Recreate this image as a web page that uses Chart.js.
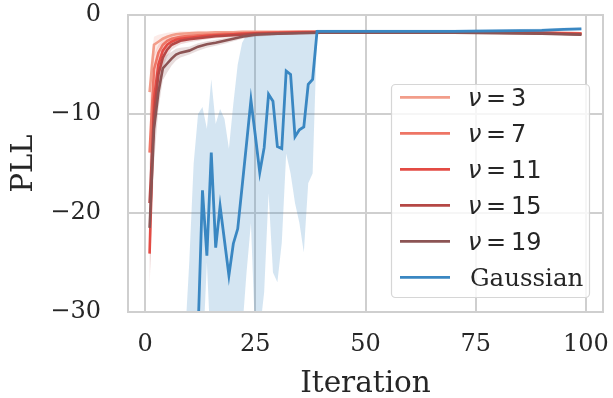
<!DOCTYPE html>
<html>
<head>
<meta charset="utf-8">
<script src="https://cdn.jsdelivr.net/npm/chart.js@4.4.1/dist/chart.umd.min.js"></script>
<style>
  html, body { margin: 0; padding: 0; background: #fff; }
  #wrap { width: 613px; height: 398px; }
</style>
</head>
<body>
<div id="wrap"><canvas id="chart" width="613" height="398"></canvas></div>
<script>
const X_TICKS = [0, 25, 50, 75, 100];
const Y_TICKS = [0, -10, -20, -30];

// student-t runs, shared iteration grid
const T_ITER = [1, 2, 3, 4, 5, 6, 7, 8, 10, 12, 14, 16, 18, 20, 22, 25, 30, 35, 40, 50, 60, 70, 80, 90, 99];

const NU3_MEAN = [-7.8, -3.0, -2.7, -2.4, -2.2, -2.05, -1.95, -1.9, -1.85, -1.8, -1.8, -1.75, -1.75, -1.75, -1.7, -1.7, -1.7, -1.7, -1.7, -1.7, -1.7, -1.7, -1.75, -1.8, -1.85];
const NU3_LO = [-10.5, -4.2, -3.3, -2.9, -2.6, -2.4, -2.25, -2.15, -2.05, -2.0, -1.95, -1.9, -1.9, -1.9, -1.85, -1.85, -1.8, -1.8, -1.8, -1.8, -1.8, -1.8, -1.85, -1.9, -1.95];
const NU3_HI = [-5.5, -2.2, -2.0, -1.9, -1.8, -1.75, -1.7, -1.65, -1.65, -1.6, -1.6, -1.6, -1.6, -1.6, -1.58, -1.58, -1.6, -1.6, -1.6, -1.6, -1.6, -1.6, -1.65, -1.7, -1.75];

const NU7_MEAN = [-13.9, -5.5, -3.8, -3.0, -2.6, -2.4, -2.3, -2.2, -2.1, -2.05, -2.0, -1.95, -1.9, -1.9, -1.85, -1.8, -1.75, -1.7, -1.7, -1.7, -1.7, -1.7, -1.75, -1.8, -1.85];
const NU7_LO = [-17, -7.5, -4.8, -3.6, -3.0, -2.7, -2.55, -2.45, -2.3, -2.25, -2.2, -2.1, -2.05, -2.0, -1.95, -1.9, -1.85, -1.8, -1.8, -1.8, -1.8, -1.8, -1.85, -1.9, -1.95];
const NU7_HI = [-10, -4, -3, -2.5, -2.25, -2.1, -2.05, -1.95, -1.9, -1.85, -1.8, -1.8, -1.75, -1.75, -1.72, -1.7, -1.65, -1.6, -1.6, -1.6, -1.6, -1.6, -1.65, -1.7, -1.75];

const NU11_MEAN = [-24.1, -8.5, -5.0, -3.6, -3.0, -2.7, -2.5, -2.4, -2.3, -2.2, -2.1, -2.05, -2.0, -1.95, -1.9, -1.85, -1.8, -1.75, -1.72, -1.7, -1.7, -1.72, -1.75, -1.8, -1.9];
const NU11_LO = [-28, -11, -6.3, -4.3, -3.5, -3.1, -2.8, -2.65, -2.5, -2.4, -2.3, -2.2, -2.15, -2.1, -2.0, -1.95, -1.9, -1.85, -1.82, -1.8, -1.8, -1.82, -1.85, -1.9, -2.0];
const NU11_HI = [-20, -6.5, -4.0, -3.0, -2.6, -2.4, -2.25, -2.15, -2.1, -2.0, -1.95, -1.9, -1.85, -1.8, -1.8, -1.75, -1.7, -1.65, -1.62, -1.6, -1.6, -1.62, -1.65, -1.7, -1.8];

const NU15_MEAN = [-19.0, -10.0, -6.0, -4.3, -3.5, -3.0, -2.8, -2.6, -2.45, -2.35, -2.25, -2.15, -2.1, -2.05, -2.0, -1.9, -1.85, -1.8, -1.75, -1.72, -1.72, -1.75, -1.8, -1.85, -1.95];
const NU15_LO = [-23, -13, -7.5, -5.3, -4.2, -3.5, -3.2, -2.95, -2.75, -2.6, -2.45, -2.35, -2.3, -2.2, -2.15, -2.05, -1.95, -1.9, -1.85, -1.82, -1.82, -1.85, -1.9, -1.95, -2.05];
const NU15_HI = [-15, -7.5, -4.8, -3.5, -2.9, -2.6, -2.45, -2.3, -2.2, -2.1, -2.05, -1.95, -1.9, -1.9, -1.85, -1.78, -1.75, -1.7, -1.65, -1.62, -1.62, -1.65, -1.7, -1.75, -1.85];

const NU19_MEAN = [-21.5, -11.5, -7.8, -5.4, -4.9, -4.4, -4.0, -3.8, -3.6, -3.2, -2.95, -2.8, -2.6, -2.4, -2.2, -2.0, -1.9, -1.85, -1.8, -1.78, -1.78, -1.8, -1.85, -1.9, -2.0];
const NU19_LO = [-27, -15, -9.5, -6.6, -5.8, -5.1, -4.6, -4.3, -4.0, -3.6, -3.3, -3.1, -2.9, -2.65, -2.4, -2.2, -2.05, -1.95, -1.9, -1.88, -1.88, -1.9, -1.95, -2.0, -2.1];
const NU19_HI = [-15, -8.5, -5.8, -4.3, -4.0, -3.7, -3.4, -3.3, -3.2, -2.85, -2.65, -2.5, -2.35, -2.2, -2.0, -1.85, -1.78, -1.75, -1.7, -1.68, -1.68, -1.7, -1.75, -1.8, -1.9];

// gaussian run
const G_ITER = [1, 2, 3, 4, 5, 6, 7, 8, 9, 10, 11, 12, 13, 14, 15, 16, 17, 18, 19, 20, 21, 22, 23, 24, 25, 26, 27, 28, 29, 30, 31, 32, 33, 34, 35, 36, 37, 38, 39, 45, 50, 60, 70, 80, 90, 95, 99];
const G_MEAN = [-150, -130, -110, -100, -90, -80, -70, -60, -55, -50, -45, -32, -17.7, -24.3, -13.9, -23.5, -19.3, -22.8, -26.3, -23.1, -21.6, -17.3, -13.0, -8.6, -12.2, -15.9, -13.4, -8.0, -8.7, -13.3, -13.5, -5.65, -6.0, -12.3, -11.6, -11.3, -7.0, -6.5, -1.65, -1.65, -1.65, -1.65, -1.65, -1.6, -1.55, -1.45, -1.4];
const G_LO = [-250, -230, -200, -180, -160, -140, -120, -100, -90, -80, -70, -60, -35, -25, -35, -40, -40, -40, -40, -38, -36, -32, -26, -21, -33, -32, -28, -18, -26, -27, -23, -14, -16, -19, -21, -24, -17, -16, -1.8, -1.8, -1.8, -1.8, -1.8, -1.75, -1.7, -1.6, -1.55];
const G_HI = [-80, -70, -60, -55, -50, -45, -40, -36, -33, -25, -15, -10, -9.3, -11.5, -6.5, -11, -9.5, -10.5, -13.5, -9, -5, -2.8, -2.0, -1.9, -1.9, -1.85, -1.85, -1.85, -1.85, -1.85, -1.85, -1.8, -1.8, -1.8, -1.8, -1.8, -1.8, -1.8, -1.5, -1.5, -1.5, -1.5, -1.5, -1.45, -1.4, -1.3, -1.25];

const T_SERIES = [
  { label: "3", mean: NU3_MEAN, lo: NU3_LO, hi: NU3_HI, color: "#f29d8a" },
  { label: "7", mean: NU7_MEAN, lo: NU7_LO, hi: NU7_HI, color: "#ee7565" },
  { label: "11", mean: NU11_MEAN, lo: NU11_LO, hi: NU11_HI, color: "#e34b44" },
  { label: "15", mean: NU15_MEAN, lo: NU15_LO, hi: NU15_HI, color: "#b54745" },
  { label: "19", mean: NU19_MEAN, lo: NU19_LO, hi: NU19_HI, color: "#8c5454" },
];
const G_COLOR = "#3a87c2";

const TEXT = "#262626";
const GRID = "#cfcfcf";

function pts(xs, ys) {
  return xs.map((x, i) => ({ x, y: ys[i] }));
}

function alpha(hex, a) {
  const n = parseInt(hex.slice(1), 16);
  return `rgba(${(n >> 16) & 255},${(n >> 8) & 255},${n & 255},${a})`;
}

function fmtTick(v) {
  return v < 0 ? "\u2212" + Math.abs(v) : String(v);
}

const datasets = [];
const bandStyle = { pointRadius: 0, borderWidth: 0, borderColor: "transparent", tension: 0 };

// gaussian band sits at the bottom
datasets.push({ ...bandStyle, data: pts(G_ITER, G_LO), fill: false, order: 100 });
datasets.push({ ...bandStyle, data: pts(G_ITER, G_HI), fill: { target: datasets.length - 1 },
  backgroundColor: alpha(G_COLOR, 0.22), order: 99 });

T_SERIES.forEach((s, k) => {
  datasets.push({ ...bandStyle, data: pts(T_ITER, s.lo), fill: false, order: 90 - 2 * k });
  datasets.push({ ...bandStyle, data: pts(T_ITER, s.hi), fill: { target: datasets.length - 1 },
    backgroundColor: alpha(s.color, 0.2), order: 89 - 2 * k });
});
T_SERIES.forEach((s, k) => {
  datasets.push({ data: pts(T_ITER, s.mean), borderColor: s.color, borderWidth: 2.6,
    pointRadius: 0, fill: false, tension: 0, order: 20 - k });
});
datasets.push({ data: pts(G_ITER, G_MEAN), borderColor: G_COLOR, borderWidth: 2.8,
  pointRadius: 0, fill: false, tension: 0, order: 0 });

const frame = {
  id: "frame",
  afterDatasetsDraw(chart) {
    const { ctx, chartArea: a } = chart;
    ctx.save();
    ctx.strokeStyle = GRID;
    ctx.lineWidth = 2;
    ctx.strokeRect(a.left, a.top, a.right - a.left, a.bottom - a.top);
    ctx.restore();
  },
};

const legendBox = {
  id: "legendBox",
  afterDraw(chart) {
    const { ctx, chartArea: a } = chart;
    const w = 198, h = 213;
    const x0 = a.right - 14 - w, y0 = a.bottom - 15 - h;
    ctx.save();
    ctx.beginPath();
    ctx.roundRect(x0 + 0.5, y0 + 0.5, w, h, 4);
    ctx.fillStyle = "rgba(255,255,255,0.8)";
    ctx.fill();
    ctx.strokeStyle = "#d6d6d6";
    ctx.lineWidth = 1.2;
    ctx.stroke();
    const items = T_SERIES.map((s) => ({ nu: s.label, color: s.color }));
    items.push({ text: "Gaussian", color: G_COLOR });
    items.forEach((it, i) => {
      const cy = y0 + 13.3 + 36 * i;
      ctx.strokeStyle = it.color;
      ctx.lineWidth = 2.8;
      ctx.beginPath();
      ctx.moveTo(x0 + 9, cy);
      ctx.lineTo(x0 + 59, cy);
      ctx.stroke();
      ctx.fillStyle = TEXT;
      ctx.textBaseline = "alphabetic";
      ctx.textAlign = "left";
      const tx = x0 + 79;
      const by = cy + 8.7;
      if (it.nu) {
        ctx.font = "oblique 24px 'DejaVu Sans'";
        ctx.fillText("\u03bd", tx - 2, by);
        ctx.font = "24px 'DejaVu Sans'";
        ctx.fillText("=", tx + 16, by);
        ctx.fillText(it.nu, tx + 41, by);
      } else {
        ctx.font = "24.5px 'DejaVu Serif'";
        ctx.fillText(it.text, tx, by);
      }
    });
    ctx.restore();
  },
};

new Chart(document.getElementById("chart"), {
  type: "line",
  data: { datasets },
  options: {
    responsive: false,
    animation: false,
    events: [],
    layout: { padding: { top: 15, right: 10, left: 0, bottom: 0 } },
    plugins: {
      legend: { display: false },
      tooltip: { enabled: false },
      filler: { propagate: false },
    },
    scales: {
      x: {
        type: "linear",
        min: -3.9,
        max: 103.9,
        afterBuildTicks: (s) => { s.ticks = X_TICKS.map((v) => ({ value: v })); },
        afterFit: (s) => { s.height = 86; s.paddingLeft = 0; s.paddingRight = 0; },
        grid: { color: GRID, lineWidth: 2, drawTicks: false },
        border: { display: false },
        ticks: { padding: 18, color: TEXT, font: { family: "DejaVu Serif", size: 24 }, callback: fmtTick },
        title: { display: true, text: "Iteration", color: TEXT, padding: { top: 0, bottom: -4 },
          font: { family: "DejaVu Serif", size: 29.5 } },
      },
      y: {
        min: -30,
        max: 0,
        afterBuildTicks: (s) => { s.ticks = Y_TICKS.map((v) => ({ value: v })); },
        afterFit: (s) => { s.width = 128; s.paddingTop = 0; s.paddingBottom = 0; },
        grid: { color: GRID, lineWidth: 2, drawTicks: false },
        border: { display: false },
        ticks: { padding: 27, color: TEXT, font: { family: "DejaVu Serif", size: 24 }, callback: fmtTick },
        title: { display: true, text: "PLL", color: TEXT, padding: 7,
          font: { family: "DejaVu Serif", size: 29 } },
      },
    },
  },
  plugins: [frame, legendBox],
});
</script>
</body>
</html>
